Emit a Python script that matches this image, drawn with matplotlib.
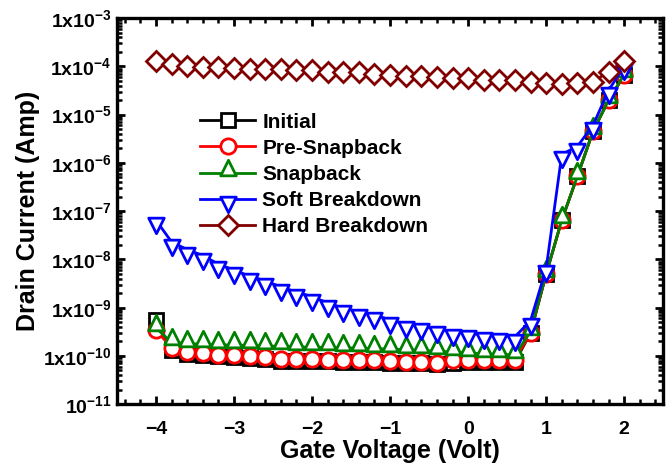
import numpy as np
import matplotlib
matplotlib.use("Agg")
import matplotlib.pyplot as plt
from matplotlib.path import Path
from matplotlib.ticker import FixedLocator, LogLocator, MultipleLocator, NullFormatter

plt.rcParams['font.family'] = ['Liberation Sans', 'DejaVu Sans']
plt.rcParams['font.weight'] = 'bold'
plt.rcParams['mathtext.fontset'] = 'custom'
plt.rcParams['mathtext.rm'] = 'Liberation Sans:bold'
plt.rcParams['mathtext.bf'] = 'Liberation Sans:bold'
plt.rcParams['mathtext.default'] = 'rm'

# gate sweep -4 V .. 2 V in 0.2 V steps
vg = [-4.0, -3.8, -3.6, -3.4, -3.2, -3.0, -2.8, -2.6, -2.4, -2.2, -2.0,
      -1.8, -1.6, -1.4, -1.2, -1.0, -0.8, -0.6, -0.4, -0.2, 0.0,
      0.2, 0.4, 0.6, 0.8, 1.0, 1.2, 1.4, 1.6, 1.8, 2.0]

initial = [5.5e-10, 1.35e-10, 1.1e-10, 1.05e-10, 1.0e-10, 9.6e-11, 9.0e-11, 8.8e-11, 8.0e-11, 8.0e-11, 8.0e-11,
           7.8e-11, 7.6e-11, 7.6e-11, 7.5e-11, 7.2e-11, 7.0e-11, 7.0e-11, 6.9e-11, 7.3e-11, 7.4e-11,
           7.4e-11, 7.4e-11, 7.5e-11, 3.0e-10, 5.0e-9, 6.5e-8, 5.3e-7, 4.5e-6, 2.0e-5, 6.5e-5]
pre_snapback = [3.5e-10, 1.45e-10, 1.18e-10, 1.14e-10, 1.05e-10, 1.05e-10, 9.8e-11, 9.6e-11, 8.5e-11, 8.5e-11, 8.8e-11,
                8.3e-11, 8.2e-11, 8.3e-11, 8.2e-11, 7.8e-11, 7.5e-11, 7.5e-11, 7.3e-11, 8.3e-11, 8.4e-11,
                8.4e-11, 8.4e-11, 8.3e-11, 3.0e-10, 5.0e-9, 6.5e-8, 5.3e-7, 4.5e-6, 2.0e-5, 6.5e-5]
snapback = [3.8e-10, 1.9e-10, 1.8e-10, 1.75e-10, 1.7e-10, 1.68e-10, 1.65e-10, 1.6e-10, 1.58e-10, 1.55e-10, 1.5e-10,
            1.5e-10, 1.48e-10, 1.45e-10, 1.42e-10, 1.38e-10, 1.35e-10, 1.3e-10, 1.25e-10, 1.2e-10, 1.15e-10,
            1.1e-10, 1.08e-10, 1.05e-10, 3.2e-10, 5.0e-9, 6.6e-8, 5.3e-7, 4.5e-6, 2.0e-5, 6.8e-5]
soft_breakdown = [6.5e-8, 2.3e-8, 1.6e-8, 1.2e-8, 8.0e-9, 6.0e-9, 4.5e-9, 3.6e-9, 2.7e-9, 2.1e-9, 1.7e-9,
                  1.25e-9, 9.8e-10, 8.3e-10, 7.1e-10, 5.6e-10, 4.6e-10, 4.1e-10, 3.6e-10, 3.2e-10, 3.0e-10,
                  2.7e-10, 2.6e-10, 2.5e-10, 5.4e-10, 6.5e-9, 1.5e-6, 2.2e-6, 6.0e-6, 3.2e-5, 1.0e-4]
hard_breakdown = [1.29e-4, 1.1e-4, 1.02e-4, 9.8e-5, 9.6e-5, 9.1e-5, 8.7e-5, 8.7e-5, 8.6e-5, 8.3e-5, 8.2e-5,
                  7.7e-5, 7.7e-5, 7.7e-5, 6.9e-5, 6.6e-5, 6.3e-5, 6.3e-5, 5.9e-5, 5.6e-5, 5.6e-5,
                  5.2e-5, 5.2e-5, 5.2e-5, 4.8e-5, 4.5e-5, 4.3e-5, 4.5e-5, 4.8e-5, 7.7e-5, 1.29e-4]

ytick_vals = [1e-11, 1e-10, 1e-9, 1e-8, 1e-7, 1e-6, 1e-5, 1e-4, 1e-3]
ytick_text = [r'10$^{-11}$', r'1x10$^{-10}$', r'1x10$^{-9}$', r'1x10$^{-8}$', r'1x10$^{-7}$',
              r'1x10$^{-6}$', r'1x10$^{-5}$', r'1x10$^{-4}$', r'1x10$^{-3}$']

# triangles sit with their base on the data point
tri_up = Path([(0, 0.85), (-0.5, -0.15), (0.5, -0.15), (0, 0.85)],
              [Path.MOVETO, Path.LINETO, Path.LINETO, Path.CLOSEPOLY])
tri_down = Path([(0, -0.85), (-0.5, 0.15), (0.5, 0.15), (0, -0.85)],
                [Path.MOVETO, Path.LINETO, Path.LINETO, Path.CLOSEPOLY])

fig = plt.figure(figsize=(6.72, 4.63), dpi=100)
ax = fig.add_axes([0.174, 0.127, 0.813, 0.834])

series = [
    (initial, 'Initial', 'black', 's', 9.5),
    (pre_snapback, 'Pre-Snapback', '#ff0000', 'o', 11),
    (snapback, 'Snapback', '#008000', tri_up, 19),
    (soft_breakdown, 'Soft Breakdown', '#0000ff', tri_down, 19),
    (hard_breakdown, 'Hard Breakdown', '#800000', 'D', 10),
]
for vals, name, col, mk, ms in series:
    ax.plot(vg, vals, color=col, lw=2.0, marker=mk, ms=ms, mfc='white',
            mec=col, mew=2.0, label=name)

ax.set_yscale('log')
ax.set_xlim(-4.5, 2.5)
ax.set_ylim(1e-11, 1e-3)
ax.xaxis.set_major_locator(MultipleLocator(1))
ax.xaxis.set_minor_locator(MultipleLocator(0.2))
ax.yaxis.set_major_locator(FixedLocator(ytick_vals))
ax.set_yticklabels(ytick_text)
ax.yaxis.set_minor_locator(LogLocator(base=10, subs=np.arange(2, 10), numticks=20))
ax.yaxis.set_minor_formatter(NullFormatter())

ax.tick_params(which='both', direction='in', top=True, right=True, labelsize=14)
ax.tick_params(which='major', length=6, width=2, pad=4)
ax.tick_params(which='minor', length=3.5, width=1.8)
ax.tick_params(axis='x', which='major', pad=12)
for sp in ax.spines.values():
    sp.set_linewidth(2.4)

ax.set_xlabel('Gate Voltage (Volt)', fontsize=18, fontweight='bold', labelpad=1)
ax.set_ylabel('Drain Current (Amp)', fontsize=18, fontweight='bold', labelpad=2)

ax.legend(loc='upper left', bbox_to_anchor=(0.152, 0.755), frameon=False,
          fontsize=15, handlelength=2.65, handletextpad=0.35, labelspacing=0.34,
          borderpad=0, borderaxespad=0)

fig.savefig('out.png', dpi=100)
